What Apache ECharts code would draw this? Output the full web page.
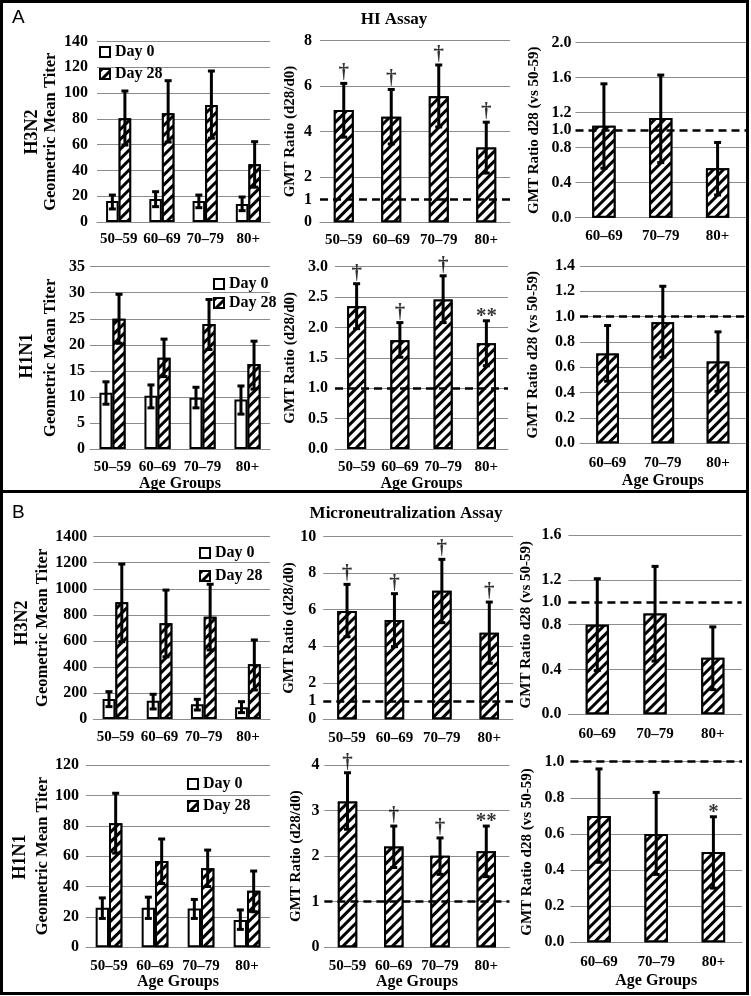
<!DOCTYPE html>
<html>
<head>
<meta charset="utf-8">
<script src="https://cdn.jsdelivr.net/npm/echarts/dist/echarts.min.js"></script>
<style>html,body{margin:0;padding:0;background:#fff;}#chart{width:751px;height:996px;}</style>
</head>
<body>
<div id="chart"></div>
<script>
// ---------------- DATA ----------------
const ageGroups = ['50–59', '60–69', '70–79', '80+'];
const olderGroups = ['60–69', '70–79', '80+'];
const legendNames = ['Day 0', 'Day 28'];

// HI assay, H3N2
const hiH3N2Day0 = [16.3, 17.8, 16.3, 14.0];
const hiH3N2Day0Low = [10.1, 11.9, 11.1, 8.8];
const hiH3N2Day0High = [20.9, 23.5, 20.9, 19.4];
const hiH3N2Day28 = [80.4, 84.3, 90.8, 44.8];
const hiH3N2Day28Low = [59.7, 62, 65, 27];
const hiH3N2Day28High = [101.6, 109.6, 117.1, 62.3];
const hiH3N2Ratio = [4.95, 4.65, 5.55, 3.3];
const hiH3N2RatioLow = [3.75, 3.45, 4.2, 2.17];
const hiH3N2RatioHigh = [6.12, 5.85, 6.93, 4.41];
const hiH3N2RatioSig = ['†', '†', '†', '†'];
const hiH3N2Vs = [1.05, 1.14, 0.565];
const hiH3N2VsLow = [0.565, 0.63, 0.26];
const hiH3N2VsHigh = [1.53, 1.63, 0.86];

// HI assay, H1N1
const hiH1N1Day0 = [10.8, 10.2, 9.85, 9.5];
const hiH1N1Day0Low = [8.6, 7.9, 7.9, 6.7];
const hiH1N1Day0High = [12.9, 12.3, 11.85, 12.1];
const hiH1N1Day28 = [25.0, 17.5, 24.0, 16.3];
const hiH1N1Day28Low = [20.3, 13.9, 19.1, 11.5];
const hiH1N1Day28High = [29.7, 21.1, 28.7, 20.7];
const hiH1N1Ratio = [2.35, 1.79, 2.46, 1.74];
const hiH1N1RatioLow = [1.98, 1.51, 2.08, 1.37];
const hiH1N1RatioHigh = [2.72, 2.08, 2.85, 2.11];
const hiH1N1RatioSig = ['†', '†', '†', '**'];
const hiH1N1Vs = [0.71, 0.955, 0.645];
const hiH1N1VsLow = [0.49, 0.68, 0.41];
const hiH1N1VsHigh = [0.93, 1.24, 0.88];

// Microneutralization assay, H3N2
const mnH3N2Day0 = [154, 141, 113, 90];
const mnH3N2Day0Low = [95, 77, 69, 49];
const mnH3N2Day0High = [210, 190, 151, 133];
const mnH3N2Day28 = [896, 735, 786, 420];
const mnH3N2Day28Low = [594, 478, 530, 223];
const mnH3N2Day28High = [1190, 990, 1035, 607];
const mnH3N2Ratio = [5.93, 5.44, 7.04, 4.74];
const mnH3N2RatioLow = [4.52, 3.98, 5.29, 3.07];
const mnH3N2RatioHigh = [7.39, 6.88, 8.76, 6.42];
const mnH3N2RatioSig = ['†', '†', '†', '†'];
const mnH3N2Vs = [0.80, 0.90, 0.505];
const mnH3N2VsLow = [0.39, 0.475, 0.22];
const mnH3N2VsHigh = [1.21, 1.32, 0.78];

// Microneutralization assay, H1N1
const mnH1N1Day0 = [26, 26, 25.5, 18];
const mnH1N1Day0Low = [19, 19, 19, 11.8];
const mnH1N1Day0High = [32.5, 33, 31.5, 24.6];
const mnH1N1Day28 = [81.6, 56.8, 52, 37.3];
const mnH1N1Day28Low = [62, 42, 40, 23.4];
const mnH1N1Day28High = [101.4, 71.3, 64, 50.2];
const mnH1N1Ratio = [3.2, 2.21, 2.01, 2.11];
const mnH1N1RatioLow = [2.59, 1.75, 1.6, 1.55];
const mnH1N1RatioHigh = [3.83, 2.66, 2.40, 2.66];
const mnH1N1RatioSig = ['†', '†', '†', '**'];
const mnH1N1Vs = [0.70, 0.60, 0.50];
const mnH1N1VsLow = [0.443, 0.376, 0.30];
const mnH1N1VsHigh = [0.96, 0.83, 0.695];
const mnH1N1VsSig = ['', '', '*'];

// Tick labels
const ticksHiH3Gmt = [0, 20, 40, 60, 80, 100, 120, 140];
const ticksHiH3Ratio = [0, 2, 4, 6, 8];
const ticksHiH3Vs = [0, 0.4, 0.8, 1.2, 1.6, 2.0];
const ticksHiH1Gmt = [0, 5, 10, 15, 20, 25, 30, 35];
const ticksHiH1Ratio = [0, 0.5, 1.0, 1.5, 2.0, 2.5, 3.0];
const ticksHiH1Vs = [0, 0.2, 0.4, 0.6, 0.8, 1.0, 1.2, 1.4];
const ticksMnH3Gmt = [0, 200, 400, 600, 800, 1000, 1200, 1400];
const ticksMnH3Ratio = [0, 2, 4, 6, 8, 10];
const ticksMnH3Vs = [0, 0.4, 0.8, 1.2, 1.6];
const ticksMnH1Gmt = [0, 20, 40, 60, 80, 100, 120];
const ticksMnH1Ratio = [0, 1, 2, 3, 4];
const ticksMnH1Vs = [0, 0.2, 0.4, 0.6, 0.8, 1.0];
const referenceValue = 1;

// ---------------- STYLE / LAYOUT ----------------
const FONT = '"Liberation Serif", "Times New Roman", serif';
const GRIDC = '#8c8c8c';
const hatch = { symbol: 'rect', symbolSize: 1, dashArrayX: [1, 0], dashArrayY: [3, 4], rotation: -Math.PI / 4, color: '#000', backgroundColor: '#fff' };
const styleDay0 = { color: '#fff', borderColor: '#000', borderWidth: 2 };
const styleDay28 = { color: '#fff', borderColor: '#000', borderWidth: 2, decal: hatch };

const grids = [], xAxes = [], yAxes = [], series = [], legends = [];

function errSeries(idx, cats, low, high, off) {
  return {
    type: 'custom', xAxisIndex: idx, yAxisIndex: idx, silent: true, z: 4,
    data: cats.map((c, i) => [i, low[i], high[i], off]),
    encode: { x: 0, y: [1, 2] },
    renderItem: function (params, api) {
      const i = api.value(0);
      const pLo = api.coord([i, api.value(1)]);
      const pHi = api.coord([i, api.value(2)]);
      const band = api.size([1, 0])[0];
      const cx = pLo[0] + api.value(3) * band;
      const cap = 3.5, st = { stroke: '#000', lineWidth: 3 };
      return { type: 'group', children: [
        { type: 'line', shape: { x1: cx, y1: pLo[1], x2: cx, y2: pHi[1] }, style: st },
        { type: 'line', shape: { x1: cx - cap, y1: pHi[1], x2: cx + cap, y2: pHi[1] }, style: st },
        { type: 'line', shape: { x1: cx - cap, y1: pLo[1], x2: cx + cap, y2: pLo[1] }, style: st }
      ] };
    }
  };
}

function addPanel(p) {
  const idx = grids.length;
  grids.push({ left: p.g[0], top: p.g[1], width: p.g[2], height: p.g[3], containLabel: false });
  xAxes.push({
    type: 'category', gridIndex: idx, data: p.cats,
    axisTick: { show: false },
    axisLine: { lineStyle: { color: GRIDC, width: 1 } },
    axisLabel: { interval: 0, margin: p.xm, color: '#000', fontFamily: FONT, fontWeight: 'bold', fontSize: 15 },
    name: p.xName || '', nameLocation: 'middle', nameGap: p.xng || 25,
    nameTextStyle: { color: '#000', fontFamily: FONT, fontWeight: 'bold', fontSize: 16 }
  });
  const t = p.ticks;
  yAxes.push({
    type: 'value', gridIndex: idx, min: t[0], max: t[t.length - 1], interval: t[1] - t[0],
    axisLine: { show: false }, axisTick: { show: false },
    splitLine: { lineStyle: { color: GRIDC, width: 1 } },
    axisLabel: { margin: p.ym, color: '#000', fontFamily: FONT, fontWeight: 'bold', fontSize: 16,
      formatter: v => p.dec ? v.toFixed(p.dec) : String(Math.round(v)) },
    name: p.yName, nameLocation: 'middle', nameRotate: 90, nameGap: p.yng,
    nameTextStyle: { color: '#000', fontFamily: FONT, fontWeight: 'bold', fontSize: p.yfs || 15 }
  });
  p.bars.forEach((b, k) => {
    const s = {
      type: 'bar', name: b.name, xAxisIndex: idx, yAxisIndex: idx, data: b.vals,
      barWidth: p.bw, barGap: '0%', itemStyle: b.style, z: 2, silent: true
    };
    if (p.ref && k === p.bars.length - 1) {
      s.markLine = {
        silent: true, symbol: ['none', 'none'], z: 6,
        data: [{ yAxis: referenceValue }],
        lineStyle: { type: [8, 5], color: '#000', width: 2.5 },
        label: { show: !!p.refLabel, position: 'start', formatter: p.refLabel || '', distance: p.ym,
          color: '#000', fontFamily: FONT, fontWeight: 'bold', fontSize: 16 }
      };
    }
    series.push(s);
    series.push(errSeries(idx, p.cats, b.low, b.high, b.off));
  });
  if (p.sig) {
    series.push({
      type: 'scatter', xAxisIndex: idx, yAxisIndex: idx, symbolSize: 0, silent: true, z: 5,
      data: p.cats.map((c, i) => ({ value: [i, p.bars[0].high[i], p.sig[i]],
        label: { distance: p.sig[i].indexOf('*') >= 0 ? -6 : 0 } })),
      label: { show: true, position: 'top', formatter: q => q.value[2], color: '#000',
        fontFamily: FONT, fontWeight: 'bold', fontSize: 21 }
    });
  }
  if (p.legend) {
    legends.push({
      left: p.legend[0], top: p.legend[1], orient: 'vertical', itemWidth: 10, itemHeight: 10,
      itemGap: p.legend[2], icon: 'rect', selectedMode: false, data: legendNames, padding: 0,
      textStyle: { color: '#000', fontFamily: FONT, fontWeight: 'bold', fontSize: 16 }
    });
  }
}

function gmtBars(d0, d0l, d0h, d28, d28l, d28h) {
  return [
    { name: legendNames[0], vals: d0, low: d0l, high: d0h, off: -0.145, style: styleDay0 },
    { name: legendNames[1], vals: d28, low: d28l, high: d28h, off: 0.145, style: styleDay28 }
  ];
}
function oneBar(v, l, h) { return [{ name: 'ratio', vals: v, low: l, high: h, off: 0, style: styleDay28 }]; }

const yGmt = 'Geometric Mean Titer', yRatio = 'GMT Ratio (d28/d0)', yVs = 'GMT Ratio d28 (vs 50-59)', xAge = 'Age Groups';

// Row A, H3N2
addPanel({ g: [97, 41.5, 173, 180.5], cats: ageGroups, ticks: ticksHiH3Gmt, ym: 9, xm: 10, yName: yGmt, yng: 38, yfs: 16.5, bw: '29%',
  bars: gmtBars(hiH3N2Day0, hiH3N2Day0Low, hiH3N2Day0High, hiH3N2Day28, hiH3N2Day28Low, hiH3N2Day28High), legend: [99, 44, 6] });
addPanel({ g: [320, 40.7, 190, 181.6], cats: ageGroups, ticks: ticksHiH3Ratio, ym: 8, xm: 10, yName: yRatio, yng: 22, bw: '42%',
  bars: oneBar(hiH3N2Ratio, hiH3N2RatioLow, hiH3N2RatioHigh), sig: hiH3N2RatioSig, ref: true, refLabel: '1' });
addPanel({ g: [575.5, 42.7, 170.5, 175], cats: olderGroups, ticks: ticksHiH3Vs, dec: 1, ym: 4, xm: 11, yName: yVs, yng: 34, bw: '41%',
  bars: oneBar(hiH3N2Vs, hiH3N2VsLow, hiH3N2VsHigh), ref: true, refLabel: '1.0' });
// Row A, H1N1
addPanel({ g: [90, 266.7, 180, 182.3], cats: ageGroups, ticks: ticksHiH1Gmt, ym: 5, xm: 11, yName: yGmt, yng: 31, yfs: 16.5, bw: '29%', xName: xAge, xng: 25,
  bars: gmtBars(hiH1N1Day0, hiH1N1Day0Low, hiH1N1Day0High, hiH1N1Day28, hiH1N1Day28Low, hiH1N1Day28High), legend: [213, 276, 3] });
addPanel({ g: [335, 266.7, 173, 182.3], cats: ageGroups, ticks: ticksHiH1Ratio, dec: 1, ym: 7, xm: 11, yName: yRatio, yng: 37, bw: '44%', xName: xAge, xng: 25,
  bars: oneBar(hiH1N1Ratio, hiH1N1RatioLow, hiH1N1RatioHigh), sig: hiH1N1RatioSig, ref: true });
addPanel({ g: [580, 266, 165.6, 177.3], cats: olderGroups, ticks: ticksHiH1Vs, dec: 1, ym: 5, xm: 12, yName: yVs, yng: 39, bw: '41%', xName: xAge, xng: 30,
  bars: oneBar(hiH1N1Vs, hiH1N1VsLow, hiH1N1VsHigh), ref: true });
// Row B, H3N2
addPanel({ g: [93.3, 536.7, 176.7, 182.3], cats: ageGroups, ticks: ticksMnH3Gmt, ym: 6, xm: 11, yName: yGmt, yng: 42, yfs: 16.5, bw: '29%',
  bars: gmtBars(mnH3N2Day0, mnH3N2Day0Low, mnH3N2Day0High, mnH3N2Day28, mnH3N2Day28Low, mnH3N2Day28High), legend: [199, 545, 7] });
addPanel({ g: [323.3, 536.7, 189.7, 182.6], cats: ageGroups, ticks: ticksMnH3Ratio, ym: 7, xm: 11, yName: yRatio, yng: 25, bw: '41%',
  bars: oneBar(mnH3N2Ratio, mnH3N2RatioLow, mnH3N2RatioHigh), sig: mnH3N2RatioSig, ref: true, refLabel: '1' });
addPanel({ g: [568.4, 535, 173.3, 179.3], cats: olderGroups, ticks: ticksMnH3Vs, dec: 1, ym: 7, xm: 12, yName: yVs, yng: 35, bw: '40%',
  bars: oneBar(mnH3N2Vs, mnH3N2VsLow, mnH3N2VsHigh), ref: true, refLabel: '1.0' });
// Row B, H1N1
addPanel({ g: [86, 765, 184, 182.3], cats: ageGroups, ticks: ticksMnH1Gmt, ym: 7, xm: 11, yName: yGmt, yng: 35, yfs: 16.5, bw: '29%', xName: xAge, xng: 26,
  bars: gmtBars(mnH1N1Day0, mnH1N1Day0Low, mnH1N1Day0High, mnH1N1Day28, mnH1N1Day28Low, mnH1N1Day28High), legend: [187, 776, 6] });
addPanel({ g: [324.4, 765, 185, 182.3], cats: ageGroups, ticks: ticksMnH1Ratio, ym: 5, xm: 11, yName: yRatio, yng: 21, bw: '42%', xName: xAge, xng: 26,
  bars: oneBar(mnH1N1Ratio, mnH1N1RatioLow, mnH1N1RatioHigh), sig: mnH1N1RatioSig, ref: true });
addPanel({ g: [570.4, 761.7, 171.6, 180.6], cats: olderGroups, ticks: ticksMnH1Vs, dec: 1, ym: 6, xm: 12, yName: yVs, yng: 36, bw: '41%', xName: xAge, xng: 31,
  bars: oneBar(mnH1N1Vs, mnH1N1VsLow, mnH1N1VsHigh), sig: mnH1N1VsSig, ref: true });

function txt(text, x, y, font, rot, align) {
  return { type: 'text', x: x, y: y, rotation: rot || 0, z: 10, silent: true,
    style: { text: text, font: font, fill: '#000', textAlign: align || 'center', textVerticalAlign: 'middle' } };
}
const graphics = [
  { type: 'rect', shape: { x: 1.5, y: 1.5, width: 746, height: 490 }, style: { fill: 'none', stroke: '#000', lineWidth: 3 }, z: 10, silent: true },
  { type: 'rect', shape: { x: 1.5, y: 491.5, width: 746, height: 502 }, style: { fill: 'none', stroke: '#000', lineWidth: 3 }, z: 10, silent: true },
  txt('A', 12, 18, '19px "Liberation Sans", Arial, sans-serif', 0, 'left'),
  txt('B', 12, 513, '19px "Liberation Sans", Arial, sans-serif', 0, 'left'),
  txt('HI Assay', 394, 20, 'bold 17px ' + FONT),
  txt('Microneutralization Assay', 406, 514, 'bold 17px ' + FONT),
  txt('H3N2', 32, 132, 'bold 18px ' + FONT, Math.PI / 2),
  txt('H1N1', 27, 356, 'bold 18px ' + FONT, Math.PI / 2),
  txt('H3N2', 22, 623, 'bold 18px ' + FONT, Math.PI / 2),
  txt('H1N1', 20, 857, 'bold 18px ' + FONT, Math.PI / 2)
];

const chart = echarts.init(document.getElementById('chart'), null, { renderer: 'canvas' });
chart.setOption({
  backgroundColor: '#fff',
  animation: false,
  grid: grids, xAxis: xAxes, yAxis: yAxes, series: series, legend: legends,
  graphic: graphics
});
</script>
</body>
</html>
